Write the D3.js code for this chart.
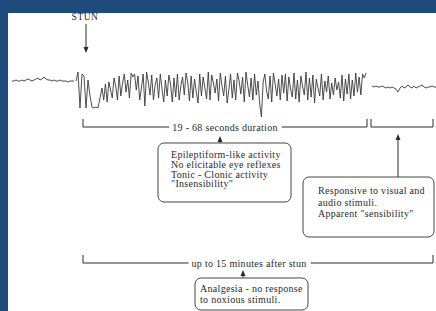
<!DOCTYPE html>
<html>
<head>
<meta charset="utf-8">
<script src="https://cdn.jsdelivr.net/npm/d3@7"></script>
<style>
body { margin: 0; background: #1f4a7c; }
svg { display: block; }
</style>
</head>
<body>
<div id="charts"></div>
<script>
// EEG amplitudes (arbitrary units, 0 = pre-stun baseline, up = positive)
var preStun = [-1,-1,0,-1,-1,0,-1,0,1,0,-1,0,1,2,0,1,3,1,0,0,-1,0,-1,-1,0,-1,-1,-1,-2,-1,-1,-1];
var stunResponse = [-1,8,-28,6,4,-28,0,-16,-27,-28,-27,-28,-18];
var burst = [-8,-20,-4,-22,-2,-10,-18,2,-6,-20,4,-16,-3,6,-12,0,-18,7,3,6,-10,4,-20,-8,6,-26,8,-2,-15,5,
  -20,-5,2,-18,6,-9,-22,0,-16,5,-4,-22,2,-17,6,-20,-6,3,-15,7,-2,-21,4,-18,1,-12,-23,6,-16,3,
  -8,-19,8,-20,5,-3,-13,1,-21,7,-6,-16,4,-23,-10,6,-18,0,-20,7,-1,-14,3,-22,8,-5,-17,2,-20,6,
  -15,-1,-24,-37,-2,6,-11,-19,4,-22,7,-4,-16,1,-20,5,-13,6,-21,3,-9,-17,7,-19,0,-22,4,-6,-15,8,
  -20,2,-17,5,-23,1,-8,-16,6,-20,-1,-12,4,-19,-3,-15,2,-10,-2,-18,5,-21,1,-14,6,-19,0,-16,7,-12,
  3,-15,6,2,7];
var postStun = [-6,-7,-6,-7,-7,-6,-7,-8,-7,-8,-7,-8,-9,-12,-8,-6,-8,-7,-5,-7,-8,-6,-8,-7,-6,-5,-7,-8,-7,-7,-6,-7,-7];

// timeline (sample index units)
var preStart = 0, stunStart = 32, burstStart = 45, burstStop = 177, postStart = 180;
var stunAt = 35.5, burstEnd = 177.5, recoverStart = 179.5, recoverEnd = 210.5;

var bracketLabels = ['19 - 68  seconds duration', 'up to 15 minutes after stun'];
var box1Lines = ['Epileptiform-like activity', 'No elicitable eye reflexes', 'Tonic - Clonic activity', '"Insensibility"'];
var box2Lines = ['Responsive to visual and', 'audio stimuli.', 'Apparent "sensibility"'];
var box3Lines = ['Analgesia - no response', 'to noxious stimuli.'];

var W = 436, H = 311;
var ink = '#2a2a2a';

var svg = d3.select('#charts')
  .append('svg')
  .attr('width', W)
  .attr('height', H);

// blue frame + paper
svg.append('rect').attr('width', W).attr('height', H).attr('fill', '#1f4a7c');
svg.append('rect').attr('x', 8).attr('y', 13).attr('width', W - 8).attr('height', H - 13).attr('fill', '#ffffff');

var x = d3.scaleLinear().domain([0, 212]).range([12, 436]);
var y = d3.scaleLinear().domain([-40, 40]).range([120, 40]);

var line = d3.line()
  .x(function(d) { return x(d.i); })
  .y(function(d) { return y(d.v); });

function series(vals, start, step) {
  return vals.map(function(v, j) { return { i: start + j * step, v: v }; });
}

var preData = series(preStun, preStart, 1);
// stun response runs straight into the burst
var seizureData = series(stunResponse, stunStart, 1)
  .concat(series(burst, burstStart, (burstStop - burstStart) / (burst.length - 1)));
var postData = series(postStun, postStart, 1);

[preData, seizureData, postData].forEach(function(pts) {
  svg.append('path')
    .datum(pts)
    .attr('d', line)
    .attr('fill', 'none')
    .attr('stroke', '#3a3a3a')
    .attr('stroke-width', 0.9)
    .attr('stroke-linejoin', 'round');
});

function txt(xp, yp, s, anchor, size) {
  return svg.append('text')
    .attr('x', xp).attr('y', yp)
    .attr('text-anchor', anchor || 'start')
    .attr('font-family', '"Liberation Serif", "DejaVu Serif", serif')
    .attr('font-size', size || 10)
    .attr('letter-spacing', 0.3)
    .attr('fill', ink)
    .text(s);
}

function arrow(xp, tipY, tailY) {
  var dir = tipY < tailY ? 1 : -1; // 1 = pointing up
  svg.append('line')
    .attr('x1', xp).attr('x2', xp)
    .attr('y1', tailY).attr('y2', tipY + dir * 4)
    .attr('stroke', ink).attr('stroke-width', 1);
  svg.append('path')
    .attr('d', 'M' + xp + ',' + tipY + 'L' + (xp - 2.5) + ',' + (tipY + dir * 6) + 'L' + (xp + 2.5) + ',' + (tipY + dir * 6) + 'Z')
    .attr('fill', ink);
}

function box(x0, y0, x1, y1) {
  svg.append('rect')
    .attr('x', x0).attr('y', y0)
    .attr('width', x1 - x0).attr('height', y1 - y0)
    .attr('rx', 6)
    .attr('fill', 'none')
    .attr('stroke', '#444')
    .attr('stroke-width', 1);
}

// bracket: ticks up at both ends, label breaking the line
function bracket(a, b, yy, label, labelX) {
  var xa = x(a), xb = x(b);
  var stroke = function(d) {
    svg.append('path').attr('d', d).attr('fill', 'none').attr('stroke', ink).attr('stroke-width', 1);
  };
  if (!label) {
    stroke('M' + xa + ',' + (yy - 8) + 'V' + yy + 'H' + xb + 'V' + (yy - 8));
    return;
  }
  var t = txt(labelX, yy + 3.5, label, 'middle');
  var bb = t.node().getBBox();
  stroke('M' + xa + ',' + (yy - 8) + 'V' + yy + 'H' + (bb.x - 3));
  stroke('M' + (bb.x + bb.width + 4) + ',' + yy + 'H' + xb + 'V' + (yy - 8));
}

// stun marker
txt(x(stunAt) + 2, 20, 'STUN', 'middle', 9.5).attr('letter-spacing', 0.5);
arrow(x(stunAt) + 3, 53, 24);

bracket(stunAt, burstEnd, 127, bracketLabels[0], 225);
bracket(recoverStart, recoverEnd, 127, null);
bracket(stunAt, recoverEnd, 263, bracketLabels[1], 249);

// box 1
arrow(220, 136, 143);
box(158, 143, 291, 202);
box1Lines.forEach(function(s, i) { txt(171, 158 + i * 9.8, s); });

// box 2
arrow(398, 134, 177);
box(303, 177, 434, 237);
box2Lines.forEach(function(s, i) { txt(318, 194 + i * 11.5, s); });

// box 3
arrow(243, 270, 278);
box(195, 278, 308, 310);
box3Lines.forEach(function(s, i) { txt(200, 292 + i * 11, s); });
</script>
</body>
</html>
